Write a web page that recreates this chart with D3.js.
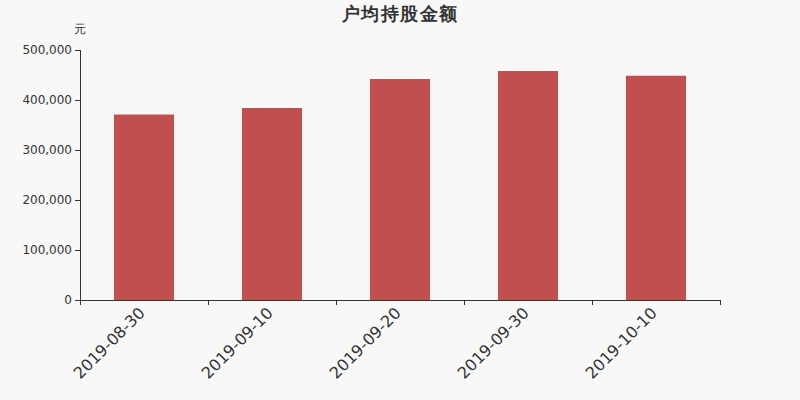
<!DOCTYPE html>
<html><head><meta charset="utf-8">
<script src="https://cdn.jsdelivr.net/npm/d3@7"></script>
<style>body{margin:0;background:#f8f8f8;}svg{display:block;font-family:"DejaVu Sans",sans-serif;}</style>
</head><body><svg width="800" height="400"></svg>
<script>
const categories = ["2019-08-30","2019-09-10","2019-09-20","2019-09-30","2019-10-10"];
const values = [371000, 384000, 442000, 458000, 448500];
const yTicks = [0,100000,200000,300000,400000,500000];
const title = "户均持股金额";
const unit = "元";

const svg = d3.select("svg");
svg.append("rect").attr("width",800).attr("height",400).attr("fill","#f8f8f8");
const mLeft=80,mRight=720,mTop=50,mBottom=300;
const x = d3.scaleBand().domain(categories).range([mLeft,mRight]).paddingInner(0.53).paddingOuter(0.265);
const y = d3.scaleLinear().domain([0,500000]).range([mBottom,mTop]);

svg.selectAll("rect.bar").data(values).enter().append("rect").attr("class","bar")
  .attr("x",(d,i)=>x(categories[i])).attr("width",x.bandwidth())
  .attr("y",d=>y(d)).attr("height",d=>mBottom-y(d)).attr("fill","#c0504d");

const fmt = d3.format(",");
const ya = svg.append("g").attr("transform",`translate(${mLeft},0)`)
  .call(d3.axisLeft(y).tickValues(yTicks).tickFormat(fmt).tickSize(5).tickPadding(3));
ya.select(".domain").attr("stroke","#333").attr("d",`M0.5,${mTop}V${mBottom}`);
ya.selectAll(".tick line").attr("stroke","#333");
ya.selectAll("text").attr("fill","#333").attr("font-size",12).attr("font-family","DejaVu Sans");

// x axis
const step = x.step();
const bounds = d3.range(categories.length+1).map(i=>mLeft+i*step);
const xa = svg.append("g");
xa.append("line").attr("x1",mLeft).attr("x2",mRight).attr("y1",mBottom+0.5).attr("y2",mBottom+0.5).attr("stroke","#333");
xa.selectAll("line.t").data(bounds).enter().append("line").attr("class","t")
  .attr("x1",d=>Math.round(d)+0.5).attr("x2",d=>Math.round(d)+0.5).attr("y1",mBottom).attr("y2",mBottom+5).attr("stroke","#333");
xa.selectAll("text").data(categories).enter().append("text")
  .attr("transform",d=>`translate(${x(d)+x.bandwidth()/2+2},${mBottom+14}) rotate(-45)`)
  .attr("text-anchor","end").attr("font-size",16).attr("fill","#333").text(d=>d);

svg.append("text").attr("x",400).attr("y",20).attr("text-anchor","middle").attr("font-size",18)
  .attr("letter-spacing",1.5).attr("font-weight","bold").attr("fill","#333").text(title);
svg.append("text").attr("x",80).attr("y",33).attr("text-anchor","middle").attr("font-size",12).attr("fill","#333").text(unit);
</script></body></html>
